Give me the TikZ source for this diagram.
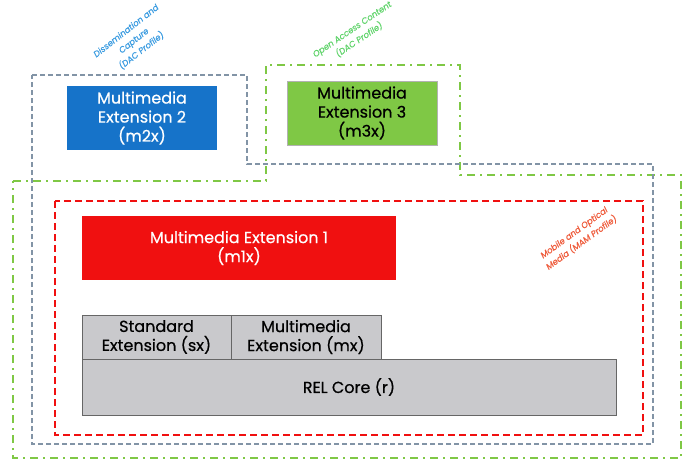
\documentclass[tikz,border=0pt]{standalone}
\usepackage{fontspec}
\setmainfont{Poppins}[FakeBold=0.5]
\usepackage{tikz}
\usetikzlibrary{calc,positioning}
\definecolor{dacblue}{HTML}{1673C9}
\definecolor{labblue}{HTML}{3A9BE0}
\definecolor{oacgreen}{HTML}{7FC845}
\definecolor{labgreen}{HTML}{5FD36A}
\definecolor{mamred}{HTML}{F01010}
\definecolor{laborange}{HTML}{EE5A3A}
\definecolor{coregray}{HTML}{C9C9CC}
\definecolor{edgegray}{HTML}{8294A6}
\begin{document}
\begin{tikzpicture}[x=1pt,y=-1pt,
  box/.style={rectangle,inner sep=0pt,align=center,font=\fontsize{16}{19}\selectfont},
  greybox/.style={box,fill=coregray,draw=black!60,line width=0.8pt},
  profile/.style={font=\fontsize{8.5}{12.5}\selectfont\itshape,align=center,inner sep=0pt},
  dacline/.style={draw=edgegray,line width=1.6pt,dash pattern=on 5pt off 3pt},
  oacline/.style={draw=oacgreen,line width=1.6pt,dash pattern=on 8pt off 5pt on 2pt off 5pt},
  mamline/.style={draw=mamred,line width=1.6pt,dash pattern=on 7pt off 4pt}]
\useasboundingbox (0,0) rectangle (688,466);
% profile outlines
\draw[oacline] (13,181) -- (266,181) -- (266,65) -- (460,65) -- (460,175) -- (681,175) -- (681,458) -- (13,458) -- cycle;
\draw[dacline] (32,75) -- (247,75) -- (247,164) -- (653,164) -- (653,444) -- (32,444) -- cycle;
\draw[mamline] (55,201) rectangle (643,435);
% extension boxes
\node[box,fill=dacblue,text=white,minimum width=150,minimum height=64] (M2) at (142,118) {Multimedia\\Extension 2\\(m2x)};
\node[box,fill=oacgreen,draw=black!30,minimum width=150,minimum height=64] (M3) at (362,113) {Multimedia\\Extension 3\\(m3x)};
\node[box,fill=mamred,text=white,minimum width=314,minimum height=64] (M1) at (239,248) {Multimedia Extension 1\\(m1x)};
\node[greybox,minimum width=149,minimum height=44] (SX) at (156.5,337) {Standard\\Extension (sx)};
\node[greybox,minimum width=150,minimum height=44] (MX) at (306,337) {Multimedia\\Extension (mx)};
\node[greybox,minimum width=534,minimum height=56] (R) at (349,387) {REL Core (r)};
% profile labels
\node[profile,text=labblue,rotate=38] (DAC) at (134,41) {Dissemination and\\Capture\\(DAC Profile)};
\node[profile,text=labgreen,rotate=34] (OAC) at (356,35) {Open Access Content\\(DAC Profile)};
\node[profile,text=laborange,rotate=36] (MAM) at (578,238) {Mobile and Optical\\Media (MAM Profile)};
\end{tikzpicture}
\end{document}
